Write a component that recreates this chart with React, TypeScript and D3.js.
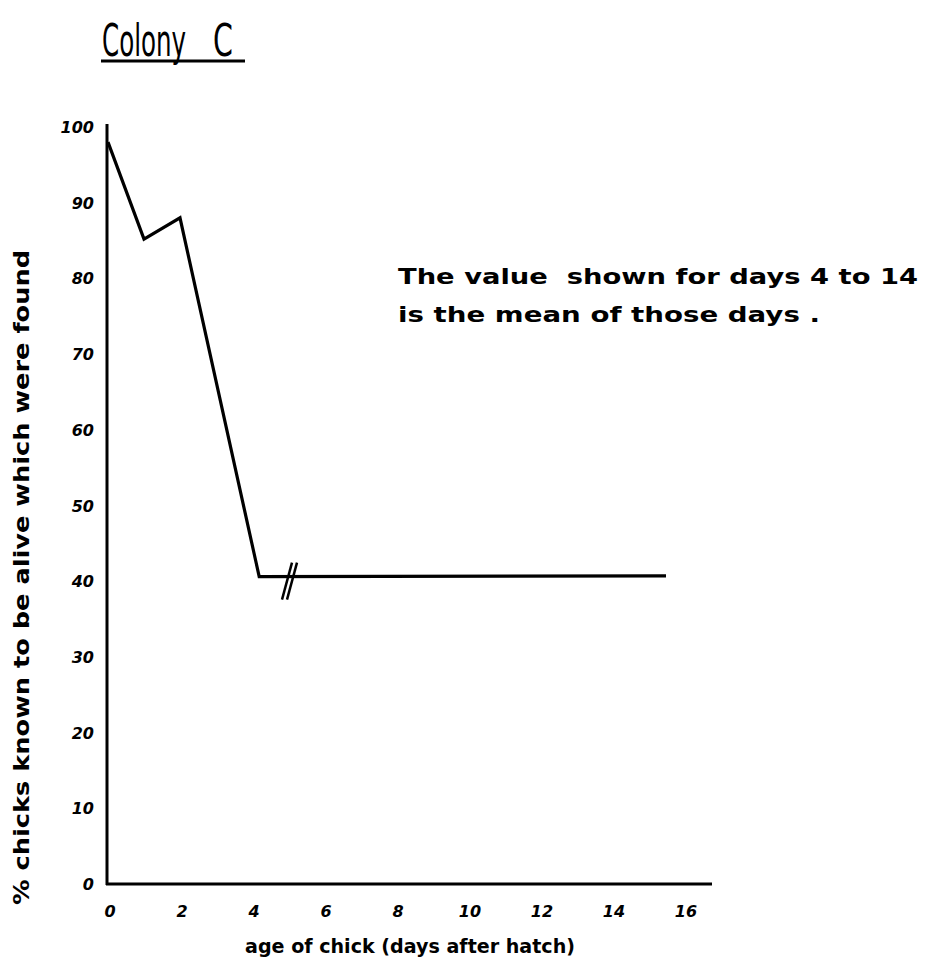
import React from "react";
import * as d3 from "d3";

const days = [0, 1, 2, 4.2, 15.5];
const foundPct = [98, 85.2, 88, 40.6, 40.7];
const xTicks = [0, 2, 4, 6, 8, 10, 12, 14, 16];
const yTicks = [0, 10, 20, 30, 40, 50, 60, 70, 80, 90, 100];
const titleWords = ["Colony", "C"];
const xLabel = "age of chick (days after hatch)";
const yLabel = "% chicks known to be alive which were found";
const note = ["The value  shown for days 4 to 14", "is the mean of those days ."];

export default function App() {
  const W = 926, H = 973;
  const x = d3.scaleLinear().domain([0, 16]).range([108, 684]);
  const y = d3.scaleLinear().domain([0, 100]).range([884, 127]);
  const line = d3.line<number>().x((_, i) => x(days[i])).y((d) => y(d));
  const path = line(foundPct) || "";
  const bx = x(5), by = y(40.6);
  const hand = "'DejaVu Sans', Lato, sans-serif";
  const thin = "'DejaVu Sans Condensed', 'DejaVu Sans', sans-serif";
  return (
    <svg width={W} height={H} style={{ position: "absolute", left: 0, top: 0, background: "#fff" }}>
      <rect width={W} height={H} fill="#fff" />
      <g transform="translate(102,56) scale(0.62,1)">
        <text x={0} y={0} fontFamily={thin} fontSize={44} fill="#000">{titleWords[0]}</text>
      </g>
      <g transform="translate(213,56) scale(0.72,1)">
        <text x={0} y={0} fontFamily={thin} fontSize={44} fill="#000">{titleWords[1]}</text>
      </g>
      <line x1={101} x2={245} y1={61} y2={61} stroke="#000" strokeWidth={3} />
      {/* axes */}
      <line x1={x(0) - 1} x2={x(0) - 1} y1={124} y2={y(0) + 1} stroke="#000" strokeWidth={3} />
      <line x1={x(0) - 2} x2={712} y1={y(0)} y2={y(0)} stroke="#000" strokeWidth={3} />
      {yTicks.map((t) => (
        <text key={"y" + t} x={94} y={y(t) + 6} textAnchor="end" fontFamily={hand} fontStyle="italic" fontWeight="bold" fontSize={16} fill="#000">{t}</text>
      ))}
      {xTicks.map((t) => (
        <text key={"x" + t} x={x(t) + 2} y={917} textAnchor="middle" fontFamily={hand} fontStyle="italic" fontWeight="bold" fontSize={16} fill="#000">{t}</text>
      ))}
      <path d={path} fill="none" stroke="#000" strokeWidth={3.2} strokeLinejoin="miter" />
      {/* break marks */}
      <line x1={bx - 6} x2={bx + 4} y1={by + 23} y2={by - 14} stroke="#000" strokeWidth={2.5} />
      <line x1={bx - 1} x2={bx + 9} y1={by + 23} y2={by - 14} stroke="#000" strokeWidth={2.5} />
      <text x={245} y={953} fontFamily={hand} fontWeight="bold" fontSize={19} fill="#000" textLength={330} lengthAdjust="spacingAndGlyphs">{xLabel}</text>
      <text transform="translate(29,905) rotate(-90)" fontFamily={hand} fontWeight="bold" fontSize={21} fill="#000" textLength={655} lengthAdjust="spacingAndGlyphs">{yLabel}</text>
      <text x={398} y={284} fontFamily={hand} fontWeight="bold" fontSize={21} fill="#000" style={{ whiteSpace: "pre" }} textLength={520} lengthAdjust="spacingAndGlyphs">{note[0]}</text>
      <text x={398} y={322} fontFamily={hand} fontWeight="bold" fontSize={21} fill="#000" style={{ whiteSpace: "pre" }} textLength={422} lengthAdjust="spacingAndGlyphs">{note[1]}</text>
    </svg>
  );
}
